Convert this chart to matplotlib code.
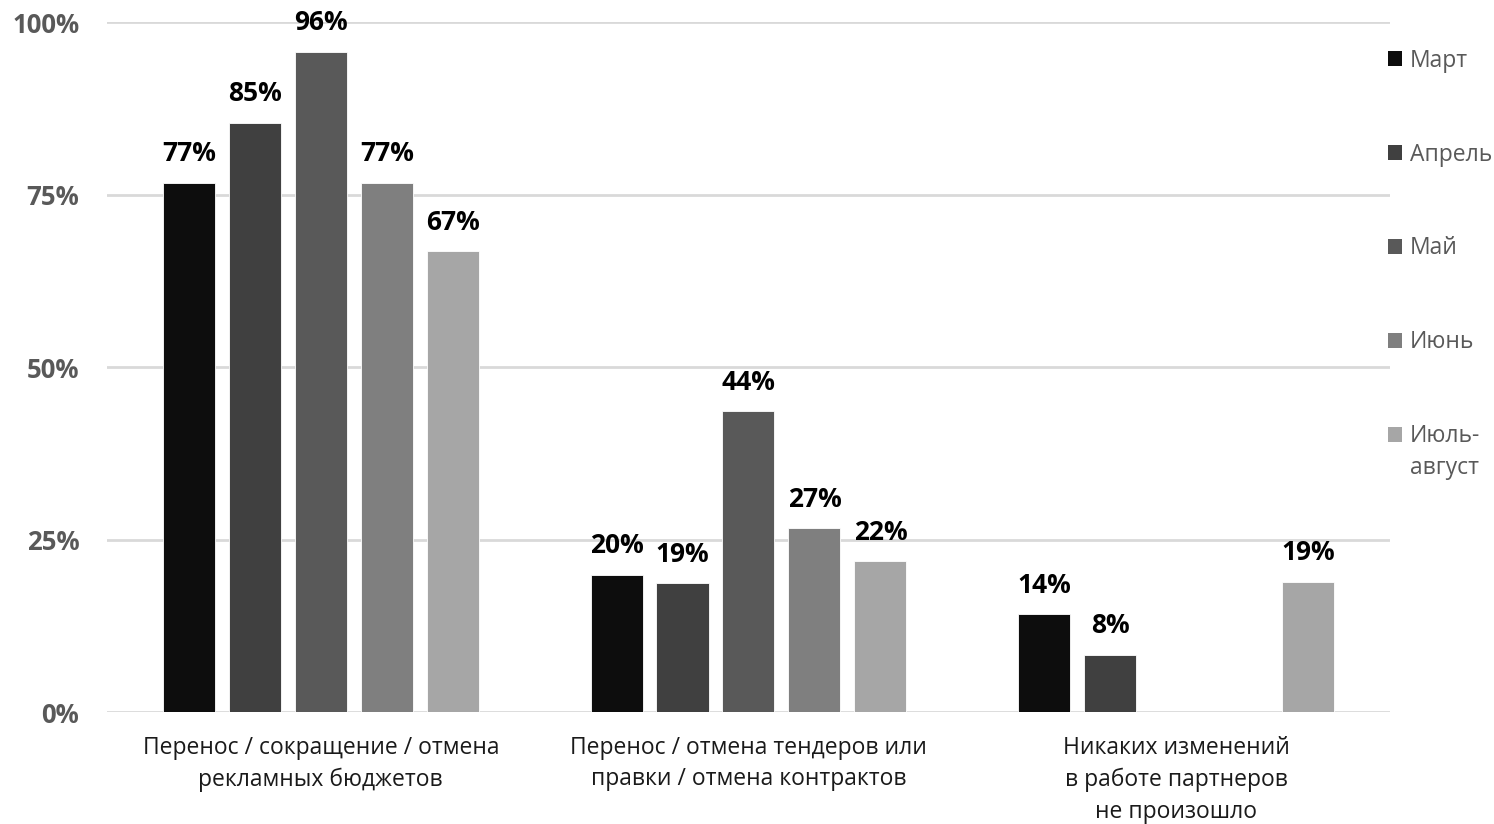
import numpy as np
import matplotlib.pyplot as plt
from matplotlib.patches import Patch

plt.rcParams['font.family'] = ['Open Sans', 'DejaVu Sans']

# --- данные ---
categories = [
    'Перенос / сокращение / отмена\nрекламных бюджетов',
    'Перенос / отмена тендеров или\nправки / отмена контрактов',
    'Никаких изменений\nв работе партнеров\nне произошло',
]
series = ['Март', 'Апрель', 'Май', 'Июнь', 'Июль-']
series_tail = 'август'  # вторая строка подписи последнего ряда
mart = [76.7, 19.9, 14.2]
aprel = [85.4, 18.7, 8.3]
mai = [95.7, 43.6, np.nan]
iyun = [76.7, 26.7, np.nan]
iyul_avgust = [66.8, 21.9, 18.9]
yticks = [0, 25, 50, 75, 100]

colors = ['#0d0d0d', '#404040', '#595959', '#7f7f7f', '#a6a6a6']
values = [mart, aprel, mai, iyun, iyul_avgust]

fig = plt.figure(figsize=(14.94, 8.24), dpi=100)
ax = fig.add_axes([0.0716, 0.1359, 0.8588, 0.8374])

x = np.arange(len(categories))
pitch = 0.1543
width = 0.1216
for i, (vals, c) in enumerate(zip(values, colors)):
    pos = x + (i - 2) * pitch
    bars = ax.bar(pos, vals, width, color=c, edgecolor='white', linewidth=0.6, zorder=3)
    for b, v in zip(bars, vals):
        if np.isnan(v):
            continue
        ax.annotate(f'{v:.0f}%', (b.get_x() + b.get_width() / 2, v),
                    xytext=(0, 11), textcoords='offset points',
                    ha='center', va='bottom', fontsize=19, fontweight='bold',
                    color='black', annotation_clip=False)

ax.set_xlim(-0.5, 2.5)
ax.set_ylim(0, 100)
ax.set_yticks(yticks)
ax.set_yticklabels([f'{t}%' for t in yticks], fontsize=18.5, fontweight='bold', color='#595959')
ax.set_xticks(x)
ax.set_xticklabels(categories, fontsize=16.5, color='#1a1a1a', linespacing=1.43)
ax.tick_params(axis='both', length=0)
ax.tick_params(axis='y', pad=20)
ax.tick_params(axis='x', pad=17)
ax.grid(axis='y', color='#d9d9d9', linewidth=2, zorder=0)
for s in ax.spines.values():
    s.set_visible(False)

handles = [Patch(facecolor=c, edgecolor='none') for c in colors]
leg = fig.legend(handles, series, loc='upper left', bbox_to_anchor=(0.929, 0.941),
                 frameon=False, fontsize=16.5, handlelength=0.62, handleheight=0.62,
                 handletextpad=0.35, labelspacing=3.05, labelcolor='#595959',
                 borderpad=0, borderaxespad=0)

# вторая строка последнего пункта легенды — под первой, квадрат остаётся у первой строки
fig.canvas.draw()
last = leg.get_texts()[-1].get_window_extent()
fig.text(last.x0, last.y0 - 32, series_tail, transform=None,
         fontsize=16.5, color='#595959', ha='left', va='bottom')

fig.savefig('out.png', dpi=100)
